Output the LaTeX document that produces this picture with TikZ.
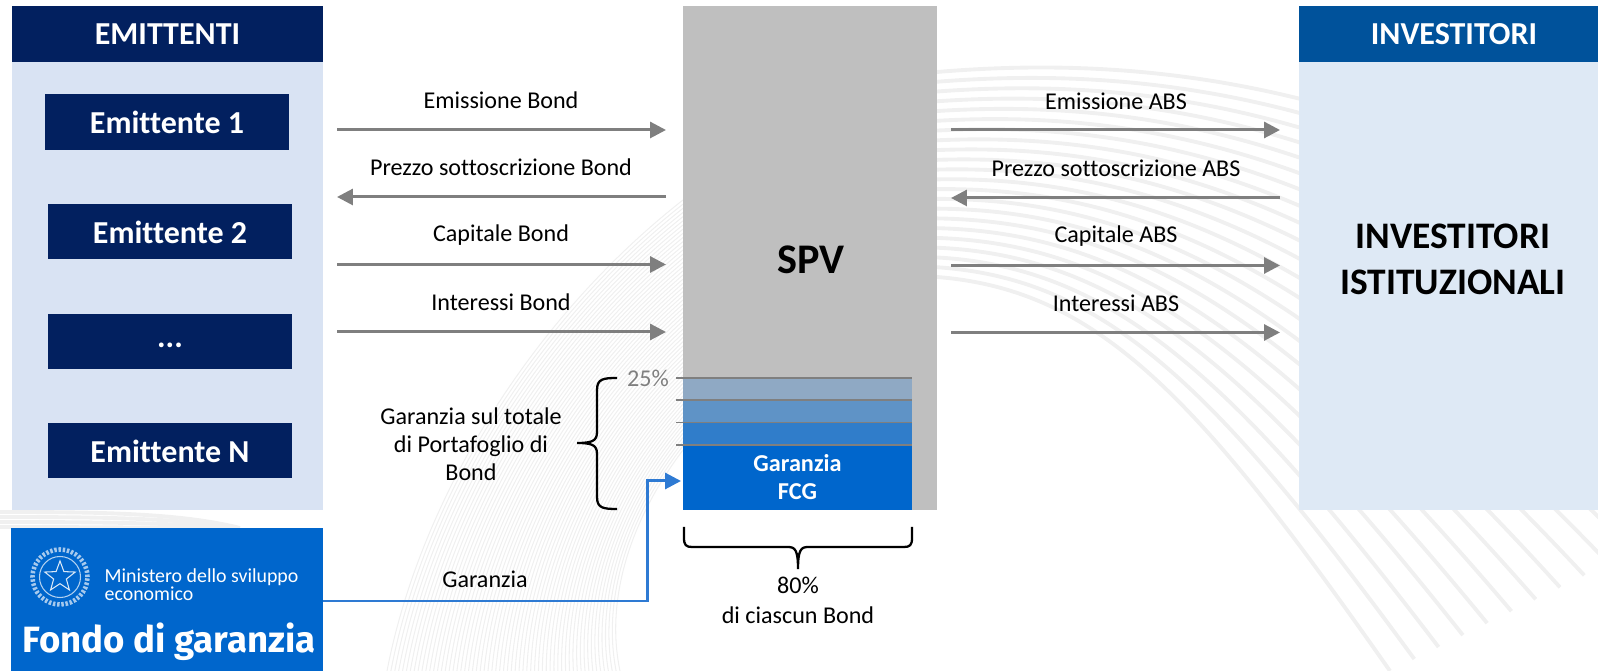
\documentclass[tikz,border=0pt]{standalone}
\usepackage{fontspec}
\setmainfont{Carlito}[Ligatures=NoCommon]
\newfontfamily\fondofont{Fira Sans}
\usepackage{tikz}
\usetikzlibrary{arrows.meta,shapes.geometric}
\definecolor{navy}{HTML}{02205F}
\definecolor{ocean}{HTML}{00529B}
\definecolor{paleem}{HTML}{D9E3F3}
\definecolor{paleinv}{HTML}{DEE9F5}
\definecolor{spvgray}{HTML}{BFBFBF}
\definecolor{fcgblue}{HTML}{0066CC}
\definecolor{linkblue}{HTML}{2E7AD3}
\definecolor{flowgray}{HTML}{7F7F7F}
\tikzset{
  panel/.style={inner sep=0pt, align=center, text=white},
  issuer/.style={panel, fill=navy, minimum width=2.44cm, minimum height=0.55cm, text height=7.5pt, text depth=0.9pt, font=\fontsize{9.1}{11}\selectfont\bfseries},
  head/.style={panel, minimum height=0.56cm, font=\fontsize{9.1}{11}\selectfont\bfseries},
  band/.style={panel, minimum width=2.29cm, minimum height=0.22cm},
  flowtext/.style={inner sep=0pt, align=center, font=\fontsize{6.85}{8}\selectfont},
  flow/.style={draw=flowgray, line width=0.85pt, -{Triangle[length=4.5pt,width=4.5pt]}},
  rule/.style={draw=flowgray, line width=0.5pt},
  brace/.style={draw=black, line width=0.65pt},
  swoosh/.style={draw=black!6, line width=1.1pt},
  hatch/.style={draw=black!6, line width=0.3pt}
}
\begin{document}
\begin{tikzpicture}[x=0.01cm, y=-0.01cm]
  \useasboundingbox (0,0) rectangle (1598,671);
  \begin{scope}
    \clip (0,0) rectangle (1598,671);
    \foreach \i [evaluate=\i as \t using \i/60] in {0,...,60} {
      \draw [hatch] ({387+233*\t},671)
        .. controls ({420+185*\t},{500+100*\t}) and ({530+100*\t},{320+200*\t}) .. (683,{200+250*\t});
    }
    \foreach \i [evaluate=\i as \t using \i/21] in {0,...,21} {
      \draw [swoosh] (937,{72+205*\t})
        .. controls ({1200-100*\t},{50+240*\t}) and ({1500-300*\t},{100+300*\t}) .. ({1900-510*\t},{420+251*\t});
    }
    \foreach \j in {0,...,3} {
      \draw [swoosh] (0,{512+\j*5}) .. controls (100,{512+\j*5}) and (180,{513+\j*5}) .. ({240-\j*8},528);
    }
  \end{scope}
  \node [panel, fill=paleem, minimum width=3.11cm, minimum height=4.48cm] (embody) at (167.5, 286) {};
  \node [head, fill=navy, minimum width=3.11cm] (emhead) at (167.5, 34) {EMITTENTI};
  \node [issuer] (em1) at (167, 122) {Emittente 1};
  \node [issuer] (em2) at (170, 231.5) {Emittente 2};
  \node [issuer, text height=4.3pt] (em3) at (170, 341.5) {...};
  \node [issuer] (emn) at (170, 450.5) {Emittente N};
  \node [panel, fill=paleinv, minimum width=2.99cm, minimum height=4.48cm] (invbody) at (1448.5, 286) {};
  \node [head, fill=ocean, minimum width=2.99cm] (invhead) at (1448.5, 34) {};
  \node [head, minimum height=0pt] (invt) at (1454, 34) {INVESTITORI};
  \node [inner sep=0pt, align=center, font=\fontsize{10.65}{13.1}\selectfont\bfseries] (inv) at (1453, 259) {INVESTITORI\\ISTITUZIONALI};
  \node [panel, fill=spvgray, minimum width=2.54cm, minimum height=5.04cm] (spv) at (810, 258) {};
  \node [inner sep=0pt, font=\fontsize{12}{14}\selectfont\bfseries] (spvt) at (811, 260) {SPV};
  \node [band, fill=fcgblue, minimum height=0.645cm, font=\fontsize{6.9}{8}\selectfont\bfseries] (fcg) at (797.5, 477.5) {Garanzia\\FCG};
  \node [band, fill={rgb,255:red,143;green,169;blue,196}] (b1) at (797.5, 389) {};
  \node [band, fill={rgb,255:red,95;green,147;blue,198}] (b2) at (797.5, 411) {};
  \node [band, fill={rgb,255:red,48;green,125;blue,202}] (b3) at (797.5, 433.5) {};
  \node [panel, fill=fcgblue, minimum width=3.12cm, minimum height=1.43cm] (fondo) at (167, 599.5) {};
  \node [inner sep=0pt, text=white, font=\fontsize{5.65}{5.1}\selectfont, align=left, anchor=west] (mise) at (104, 585) {Ministero dello sviluppo\\economico};
  \node [inner sep=0pt, text=white, font=\fondofont\fontsize{10.4}{12}\selectfont\bfseries] (fondot) at (169, 642) {Fondo di garanzia};
  \node [draw=white!85!fcgblue, line width=0.3pt, star, star points=5, star point ratio=2.4, minimum size=0.32cm, inner sep=0pt] (stella) at (60, 577) {};
  \node [draw=white!70!fcgblue, line width=0.3pt, circle, minimum size=0.41cm, inner sep=0pt] (gear) at (60, 577) {};
  \node [draw=white!65!fcgblue, line width=1.3pt, circle, dash pattern=on 0.7pt off 0.5pt, minimum size=0.55cm, inner sep=0pt] (wreath) at (60, 577) {};
  \node [flowtext] (l1) at (501, 100) {Emissione Bond};
  \node [flowtext] (l2) at (501, 167) {Prezzo sottoscrizione Bond};
  \node [flowtext] (l3) at (501, 235) {Capitale Bond};
  \node [flowtext] (l4) at (501, 302) {Interessi Bond};
  \node [flowtext] (r1) at (1116, 101) {Emissione ABS};
  \node [flowtext] (r2) at (1116, 168) {Prezzo sottoscrizione ABS};
  \node [flowtext] (r3) at (1116, 236) {Capitale ABS};
  \node [flowtext] (r4) at (1116, 303) {Interessi ABS};
  \node [flowtext] (gs) at (471, 444) {Garanzia sul totale\\di Portafoglio di\\Bond};
  \node [flowtext] (gar) at (485, 579) {Garanzia};
  \node [flowtext, text=flowgray] (pc) at (648, 378) {25\%};
  \node [flowtext, font=\fontsize{6.85}{8.7}\selectfont] (ot) at (798, 600.5) {80\%\\di ciascun Bond};
  \coordinate (la1) at (337, 130); \coordinate (lb1) at (666, 130);
  \coordinate (la2) at (337, 197); \coordinate (lb2) at (666, 197);
  \coordinate (la3) at (337, 264.5); \coordinate (lb3) at (666, 264.5);
  \coordinate (la4) at (337, 332); \coordinate (lb4) at (666, 332);
  \coordinate (ra1) at (951, 130); \coordinate (rb1) at (1280, 130);
  \coordinate (ra2) at (951, 198); \coordinate (rb2) at (1280, 198);
  \coordinate (ra3) at (951, 265.5); \coordinate (rb3) at (1280, 265.5);
  \coordinate (ra4) at (951, 332.5); \coordinate (rb4) at (1280, 332.5);
  \draw [flow] (la1) to (lb1);
  \draw [flow] (lb2) to (la2);
  \draw [flow] (la3) to (lb3);
  \draw [flow] (la4) to (lb4);
  \draw [flow] (ra1) to (rb1);
  \draw [flow] (rb2) to (ra2);
  \draw [flow] (ra3) to (rb3);
  \draw [flow] (ra4) to (rb4);
  \coordinate (gs0) at (323, 601);
  \coordinate (gi) at (681, 481);
  \draw [draw=linkblue, line width=0.85pt, -{Triangle[length=4.5pt,width=4.5pt]}] (gs0) -- (647, 601) -- (647, 481) -- (gi);
  \foreach \y in {378, 400, 422.5, 445} {
    \coordinate (ta) at (676, \y);
    \coordinate (tb) at (912, \y);
    \draw [rule] (ta) to (tb);
  }
  \draw [brace] (617, 378) .. controls (603, 378) and (597, 379) .. (597, 390) -- (597, 432)
    .. controls (597, 441) and (592, 443) .. (577, 443)
    .. controls (592, 443) and (597, 445) .. (597, 454) -- (597, 497)
    .. controls (597, 508) and (603, 509) .. (617, 509);
  \draw [brace] (684, 527) -- (684, 538) .. controls (684, 545) and (686, 547) .. (692, 547) -- (788, 547)
    .. controls (795, 547) and (798, 550) .. (798, 569)
    .. controls (798, 550) and (801, 547) .. (808, 547) -- (904, 547)
    .. controls (910, 547) and (912, 545) .. (912, 538) -- (912, 527);
\end{tikzpicture}
\end{document}
